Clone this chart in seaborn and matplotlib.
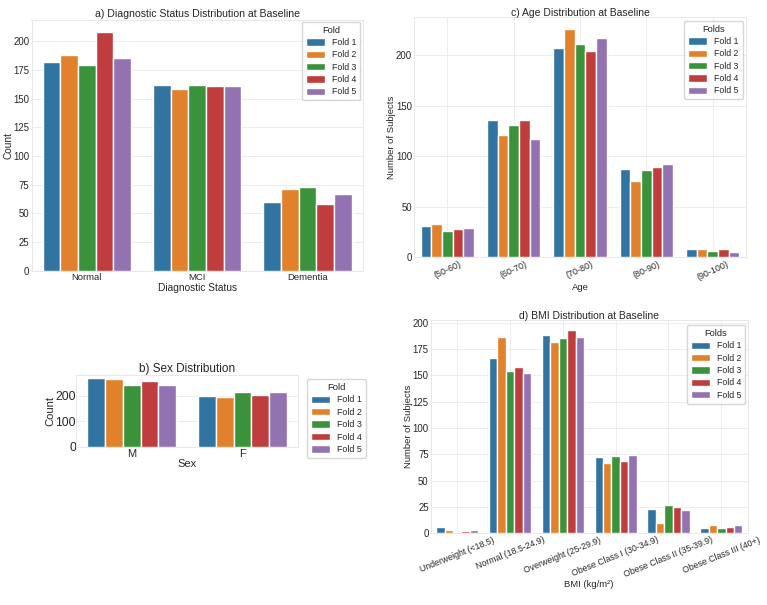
import matplotlib
matplotlib.use("Agg")
import matplotlib.pyplot as plt
from matplotlib.ticker import MultipleLocator
import seaborn as sns
import pandas as pd

# ---------------- data ----------------
folds = ["Fold 1", "Fold 2", "Fold 3", "Fold 4", "Fold 5"]

diag_categories = ["Normal", "MCI", "Dementia"]
diag_f1 = [182, 162, 60]
diag_f2 = [188, 158, 71]
diag_f3 = [179, 162, 73]
diag_f4 = [208, 161, 58]
diag_f5 = [185, 161, 67]

sex_categories = ["M", "F"]
sex_f1 = [268, 200]
sex_f2 = [264, 197]
sex_f3 = [244, 213]
sex_f4 = [259, 204]
sex_f5 = [244, 213]

age_categories = ["(50-60)", "(60-70)", "(70-80)", "(80-90)", "(90-100)"]
age_f1 = [31, 136, 207, 87, 8]
age_f2 = [33, 121, 226, 75, 8]
age_f3 = [26, 131, 211, 86, 6]
age_f4 = [28, 136, 204, 89, 8]
age_f5 = [29, 117, 217, 92, 5]

bmi_categories = ["Underweight (<18.5)", "Normal (18.5-24.9)", "Overweight (25-29.9)",
                  "Obese Class I (30-34.9)", "Obese Class II (35-39.9)", "Obese Class III (40+)"]
bmi_f1 = [6, 166, 188, 72, 23, 5]
bmi_f2 = [3, 186, 182, 67, 10, 8]
bmi_f3 = [1, 154, 185, 73, 27, 5]
bmi_f4 = [2, 158, 193, 69, 25, 6]
bmi_f5 = [3, 152, 186, 74, 22, 8]

# ---------------- style ----------------
sns.set_theme(style="whitegrid")
plt.rcParams["font.family"] = ["Liberation Sans", "DejaVu Sans"]
plt.rcParams["grid.color"] = "#ededed"
plt.rcParams["grid.linewidth"] = 0.7
plt.rcParams["axes.edgecolor"] = "#e8e8e8"
plt.rcParams["axes.linewidth"] = 0.7

W, H = 767.0, 605.0


def long_df(categories, fold_lists, cat_name, val_name):
    rows = []
    for fold, vals in zip(folds, fold_lists):
        for c, v in zip(categories, vals):
            rows.append({cat_name: c, "Fold": fold, val_name: v})
    return pd.DataFrame(rows)


fig = plt.figure(figsize=(W / 100, H / 100), dpi=100)


def px_rect(left, right, top, bottom):
    return [left / W, 1 - bottom / H, (right - left) / W, (bottom - top) / H]


def panel(rect, df, x, y, order, title, xlabel, ylabel, legend_title, legend_xy,
          xtick_fs, ytick_fs, label_fs, title_fs, legend_fs=6.3, rot=0, xgrid=False,
          title_pad=2, xpad=2, ypad=1.5, ylabelpad=0.3, ystep=None):
    ax = fig.add_axes(rect)
    sns.barplot(data=df, x=x, y=y, hue="Fold", order=order, hue_order=folds,
                palette="tab10", ax=ax)
    ax.set_title(title, fontsize=title_fs, pad=title_pad)
    ax.set_xlabel(xlabel, fontsize=label_fs, labelpad=0.5)
    ax.set_ylabel(ylabel, fontsize=label_fs, labelpad=ylabelpad)
    ax.tick_params(axis="both", length=0)
    ax.tick_params(axis="x", labelsize=xtick_fs, pad=xpad, rotation=rot)
    ax.tick_params(axis="y", labelsize=ytick_fs, pad=ypad)
    if ystep is not None:
        ax.yaxis.set_major_locator(MultipleLocator(ystep))
    if xgrid:
        ax.xaxis.grid(True)
    handles, labels = ax.get_legend_handles_labels()
    if ax.get_legend() is not None:
        ax.get_legend().remove()
    lx, ly = legend_xy
    ax.legend(handles, labels, title=legend_title, loc="upper left",
              bbox_to_anchor=(lx / W, 1 - ly / H), bbox_transform=fig.transFigure,
              borderaxespad=0, fontsize=legend_fs, title_fontsize=legend_fs + 0.4,
              labelspacing=0.38, handleheight=0.9, handlelength=2.2,
              borderpad=0.45, frameon=True)
    return ax


# a) diagnostic status
df_diag = long_df(diag_categories, [diag_f1, diag_f2, diag_f3, diag_f4, diag_f5],
                  "Diagnostic Status", "Count")
panel(px_rect(31.5, 362.7, 20, 270.7), df_diag, "Diagnostic Status", "Count",
      diag_categories, "a) Diagnostic Status Distribution at Baseline",
      "Diagnostic Status", "Count", "Fold", (301.7, 21.7),
      xtick_fs=6.8, ytick_fs=6.9, label_fs=7.3, title_fs=7.6, title_pad=2,
      ylabelpad=0)

# c) age
df_age = long_df(age_categories, [age_f1, age_f2, age_f3, age_f4, age_f5],
                 "Age", "Number of Subjects")
panel(px_rect(414.1, 745.9, 17.3, 257.3), df_age, "Age", "Number of Subjects",
      age_categories, "c) Age Distribution at Baseline",
      "Age", "Number of Subjects", "Folds", (684, 20.7),
      xtick_fs=6.4, ytick_fs=6.9, label_fs=6.8, title_fs=7.5, rot=25, xgrid=True,
      title_pad=1, xpad=1.5, ylabelpad=0)

# b) sex
df_sex = long_df(sex_categories, [sex_f1, sex_f2, sex_f3, sex_f4, sex_f5],
                 "Sex", "Count")
panel(px_rect(76.3, 297.9, 375, 446.7), df_sex, "Sex", "Count",
      sex_categories, "b) Sex Distribution",
      "Sex", "Count", "Fold", (306.7, 379),
      xtick_fs=8, ytick_fs=8.7, label_fs=8, title_fs=8.5, legend_fs=6.4, title_pad=2,
      ypad=0.3, xpad=1.5, ylabelpad=0, ystep=100)

# d) BMI
df_bmi = long_df(bmi_categories, [bmi_f1, bmi_f2, bmi_f3, bmi_f4, bmi_f5],
                 "BMI (kg/m²)", "Number of Subjects")
panel(px_rect(430.8, 747.7, 319.9, 533.3), df_bmi, "BMI (kg/m²)", "Number of Subjects",
      bmi_categories, "d) BMI Distribution at Baseline",
      "BMI (kg/m²)", "Number of Subjects", "Folds", (686.7, 325),
      xtick_fs=6.3, ytick_fs=6.9, label_fs=6.8, title_fs=7.5, rot=22, xgrid=True,
      title_pad=1, xpad=1.5, ylabelpad=0)

fig.savefig("out.png", dpi=100, facecolor="white")
